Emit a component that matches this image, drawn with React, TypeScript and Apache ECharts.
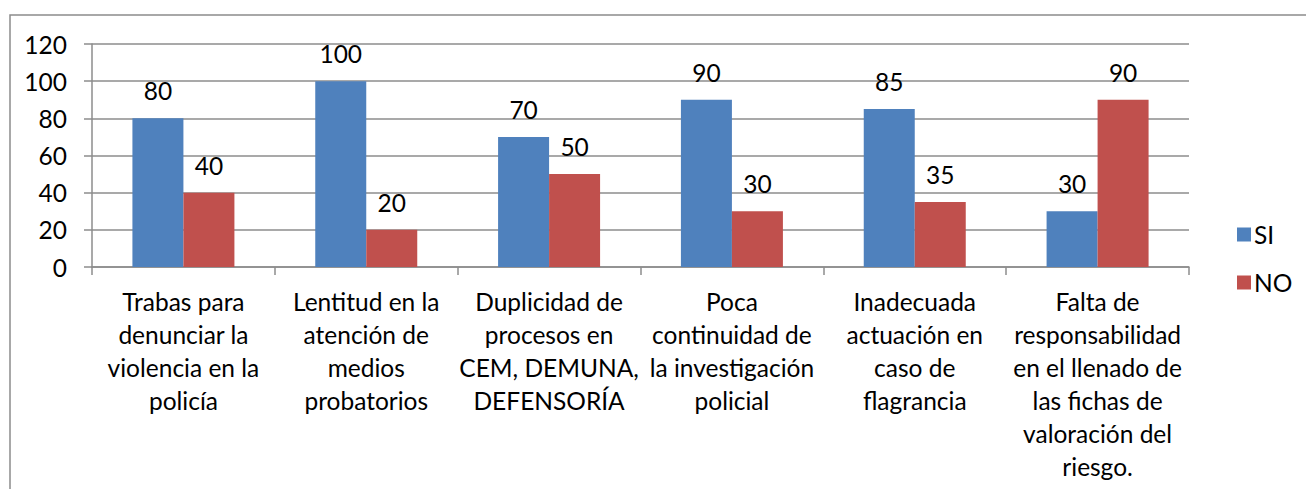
import React, { useEffect, useRef } from "react";
import * as echarts from "echarts";

const categories = [
  "Trabas para\ndenunciar la\nviolencia en la\npolicía",
  "Lentitud en la\natención de\nmedios\nprobatorios",
  "Duplicidad de\nprocesos en\nCEM, DEMUNA,\nDEFENSORÍA",
  "Poca\ncontinuidad de\nla investigación\npolicial",
  "Inadecuada\nactuación en\ncaso de\nflagrancia",
  "Falta de\nresponsabilidad\nen el llenado de\nlas fichas de\nvaloración del\nriesgo.",
];
const siValues = [80, 100, 70, 90, 85, 30];
const noValues = [40, 20, 50, 30, 35, 90];
const seriesNames = ["SI", "NO"];

const FONT = "Lato, 'Open Sans', sans-serif";
const GRID_COLOR = "#8c8c8c";
const FS = 24.5;

export default function App() {
  const ref = useRef<HTMLDivElement>(null);
  useEffect(() => {
    if (!ref.current) return;
    const chart = echarts.init(ref.current, undefined, { renderer: "svg" });
    const labelStyle = {
      show: true,
      position: "top" as const,
      distance: 15,
      color: "#000",
      fontSize: FS,
      fontFamily: FONT,
    };
    chart.setOption({
      animation: false,
      backgroundColor: "#fff",
      textStyle: { fontFamily: FONT },
      graphic: [
        {
          type: "rect",
          shape: { x: 10, y: 15, width: 1320, height: 520 },
          style: { fill: "none", stroke: GRID_COLOR, lineWidth: 1.5 },
          silent: true,
        },
      ],
      grid: { left: 92, right: 117, top: 44, bottom: 222, containLabel: false },
      legend: {
        orient: "vertical",
        left: 1232,
        top: 217,
        itemWidth: 14,
        itemHeight: 14,
        itemGap: 23,
        icon: "rect",
        textStyle: { fontSize: FS, fontFamily: FONT, color: "#000", padding: [0, 0, 0, -2] },
        data: seriesNames,
      },
      xAxis: {
        type: "category",
        data: categories,
        boundaryGap: true,
        axisLine: { show: true, lineStyle: { color: GRID_COLOR, width: 1.5 } },
        axisTick: { show: true, length: 8, alignWithLabel: false, lineStyle: { color: GRID_COLOR, width: 1.5 } },
        axisLabel: {
          interval: 0,
          margin: 18,
          fontSize: FS,
          lineHeight: 33,
          color: "#000",
          fontFamily: FONT,
          align: "center",
        },
      },
      yAxis: {
        type: "value",
        min: 0,
        max: 120,
        interval: 20,
        axisLine: { show: true, lineStyle: { color: GRID_COLOR, width: 1.5 } },
        axisTick: { show: true, length: 8, lineStyle: { color: GRID_COLOR, width: 1.5 } },
        splitLine: { show: true, lineStyle: { color: GRID_COLOR, width: 1.5 } },
        axisLabel: { margin: 25, fontSize: FS, color: "#000", fontFamily: FONT },
      },
      series: [
        {
          name: seriesNames[0],
          type: "bar",
          data: siValues,
          barWidth: 51,
          barGap: "0%",
          itemStyle: { color: "#4F81BD" },
          label: labelStyle,
        },
        {
          name: seriesNames[1],
          type: "bar",
          data: noValues,
          barWidth: 51,
          barGap: "0%",
          itemStyle: { color: "#C0504D" },
          label: labelStyle,
        },
      ],
    });
    return () => chart.dispose();
  }, []);
  return <div ref={ref} style={{ width: 1306, height: 489, position: "absolute", left: 0, top: 0 }} />;
}
